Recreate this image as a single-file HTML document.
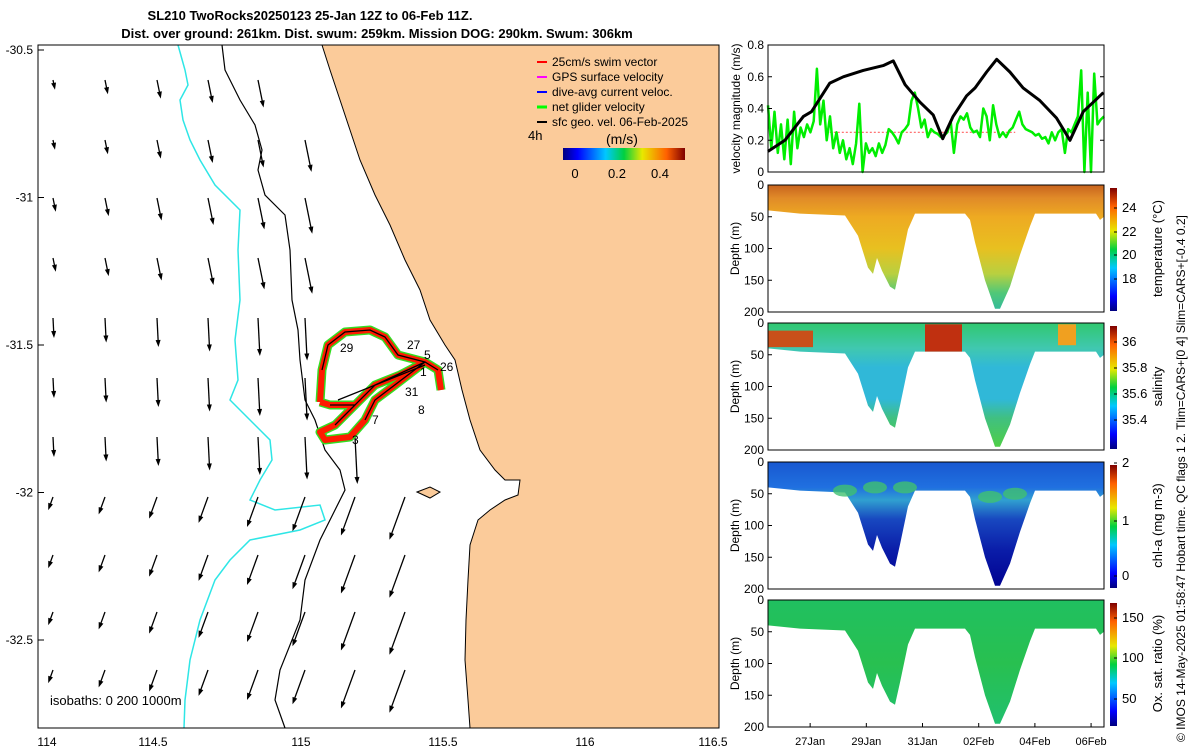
<!DOCTYPE html>
<html><head><meta charset="utf-8">
<style>
html,body{margin:0;padding:0;background:#fff;}
svg{display:block;font-family:"Liberation Sans","DejaVu Sans",sans-serif;}
</style></head>
<body>
<svg id="fig" width="1200" height="750" viewBox="0 0 1200 750" xmlns="http://www.w3.org/2000/svg">
<defs>
  <linearGradient id="jet" x1="0" y1="1" x2="0" y2="0">
    <stop offset="0" stop-color="#00007f"/><stop offset="0.12" stop-color="#0000ff"/>
    <stop offset="0.35" stop-color="#00c8ff"/><stop offset="0.5" stop-color="#00d040"/>
    <stop offset="0.65" stop-color="#e8e800"/><stop offset="0.85" stop-color="#ff6000"/>
    <stop offset="1" stop-color="#7f0000"/>
  </linearGradient>
  <linearGradient id="jeth" x1="0" y1="0" x2="1" y2="0">
    <stop offset="0" stop-color="#00007f"/><stop offset="0.12" stop-color="#0000ff"/>
    <stop offset="0.35" stop-color="#00c8ff"/><stop offset="0.5" stop-color="#00d040"/>
    <stop offset="0.65" stop-color="#e8e800"/><stop offset="0.85" stop-color="#ff6000"/>
    <stop offset="1" stop-color="#7f0000"/>
  </linearGradient>
</defs>

<text x="310" y="20" font-size="13" font-weight="bold" text-anchor="middle">SL210 TwoRocks20250123 25-Jan 12Z to 06-Feb 11Z.</text>
<text x="377" y="38" font-size="13" font-weight="bold" text-anchor="middle">Dist. over ground: 261km. Dist. swum: 259km. Mission DOG: 290km. Swum: 306km</text>

<g id="map">
  <rect x="38" y="45" width="681" height="683" fill="#fff"/>
  <polygon fill="#fbcb9a" stroke="#000" stroke-width="1"
   points="322,45 330,70 340,100 350,130 360,160 375,195 390,225 405,260 420,290 430,320 445,345 455,360 462,390 470,420 480,450 495,470 505,480 520,480 518,495 505,500 490,510 478,520 470,545 468,580 466,620 465,660 468,700 470,728 719,728 719,45"/>
  <polygon points="417,492 430,487 440,492 430,498" fill="#fbcb9a" stroke="#000" stroke-width="1"/>
  <polyline fill="none" stroke="#2ee6e6" stroke-width="1.5"
   points="178,45 185,70 188,85 180,100 183,120 190,140 200,160 215,185 240,210 238,250 240,300 235,340 238,380 230,400 250,420 270,440 272,460 260,480 250,500 275,510 320,505 325,520 300,530 250,540 230,560 215,580 200,620 190,660 185,700 184,728"/>
  <polyline fill="none" stroke="#000" stroke-width="1.2"
   points="222,45 225,70 240,100 255,125 262,150 258,170 265,195 285,215 290,250 292,300 298,330 300,360 305,400 315,420 325,450 340,470 345,490 335,510 320,540 305,580 300,620 280,670 275,700 285,728"/>
  <g id="arrows"></g>
  <g id="track">
    <path fill="none" stroke="#33dd22" stroke-width="9" stroke-linejoin="round" d="M320,402 L322,370 L328,345 L345,332 L370,330 L385,337 L398,355 L425,362 L438,370 L441,390 M425,362 L400,375 L375,385 L365,395 L355,405 L330,405 L320,402 M355,405 L345,415 L335,425 L320,432 L325,440 L350,437 L365,420 L375,400 L395,385 L425,362"/>
    <path fill="none" stroke="#ff1a00" stroke-width="6" stroke-linejoin="round" d="M320,402 L322,370 L328,345 L345,332 L370,330 L385,337 L398,355 L425,362 L438,370 L441,390 M425,362 L400,375 L375,385 L365,395 L355,405 L330,405 L320,402 M355,405 L345,415 L335,425 L320,432 L325,440 L350,437 L365,420 L375,400 L395,385 L425,362"/>
    <path fill="none" stroke="#000" stroke-width="1.3" d="M322,370 L328,345 L345,332 L370,330 L385,337 L398,355 L425,362 L438,370 M425,362 L375,385 L355,405 L330,405 M355,405 L335,425 M365,420 L375,400 L425,362 M338,400 L425,365"/>
  </g>
  <g font-size="12">
    <text x="340" y="352">29</text>
    <text x="407" y="349">27</text>
    <text x="424" y="359">5</text>
    <text x="440" y="371">26</text>
    <text x="420" y="376">1</text>
    <text x="405" y="396">31</text>
    <text x="418" y="414">8</text>
    <text x="372" y="424">7</text>
    <text x="352" y="444">3</text>
  </g>
  <text x="50" y="705" font-size="13">isobaths: 0   200  1000m</text>
  <g font-size="12">
    <line x1="537" y1="62" x2="547" y2="62" stroke="#f00" stroke-width="2"/><text x="552" y="66">25cm/s swim vector</text>
    <line x1="537" y1="77" x2="547" y2="77" stroke="#f0f" stroke-width="2"/><text x="552" y="81">GPS surface velocity</text>
    <line x1="537" y1="92" x2="547" y2="92" stroke="#00f" stroke-width="2"/><text x="552" y="96">dive-avg current veloc.</text>
    <line x1="537" y1="107" x2="547" y2="107" stroke="#0f0" stroke-width="3"/><text x="552" y="111">net glider velocity</text>
    <line x1="537" y1="122" x2="547" y2="122" stroke="#000" stroke-width="2"/><text x="552" y="126">sfc geo. vel. 06-Feb-2025</text>
    <text x="528" y="140" font-size="13">4h</text>
    <text x="606" y="144" font-size="14">(m/s)</text>
    <rect x="563" y="148" width="122" height="12" fill="url(#jeth)"/>
    <text x="575" y="178" font-size="13" text-anchor="middle">0</text>
    <text x="617" y="178" font-size="13" text-anchor="middle">0.2</text>
    <text x="660" y="178" font-size="13" text-anchor="middle">0.4</text>
  </g>
  <rect x="38" y="45" width="681" height="683" fill="none" stroke="#000" stroke-width="1"/>
  <g id="mapaxes" font-size="12"></g>
</g>

<g id="vel"></g>
<g id="profiles"></g>

<text transform="translate(1185,742) rotate(-90)" font-size="12">© IMOS 14-May-2025 01:58:47 Hobart time. QC flags 1  2. Tlim=CARS+[0 4] Slim=CARS+[-0.4 0.2]</text>
</svg>
<script>
const blackDays = [0,0.6,1.26,1.55,2.2,2.68,3.39,4.1,4.46,4.88,5.41,5.88,6.22,6.59,7.07,7.37,7.78,8.14,8.61,9.08,9.68,10.27,10.75,11.22,11.58,11.94];
const blackVals = [0.13,0.2,0.35,0.38,0.56,0.6,0.64,0.67,0.70,0.55,0.44,0.36,0.21,0.35,0.48,0.53,0.63,0.71,0.63,0.53,0.45,0.34,0.2,0.38,0.44,0.5];
const greenVals = [0.42,0.15,0.38,0.12,0.30,0.08,0.33,0.05,0.38,0.15,0.28,0.22,0.30,0.25,0.32,0.65,0.3,
 0.45,0.2,0.35,0.15,0.25,0.12,0.2,0.08,0.15,0.05,0.18,0.43,0.0,
 0.18,0.12,0.15,0.1,0.18,0.12,0.17,0.27,0.25,0.22,0.18,0.25,0.27,0.3,0.45,0.5,0.4,0.28,
 0.33,0.22,0.27,0.25,0.24,0.22,0.23,0.25,0.32,0.12,0.30,0.35,0.33,0.37,0.28,0.25,
 0.26,0.22,0.4,0.35,0.2,0.42,0.3,0.22,0.25,0.22,0.26,0.28,0.33,0.38,0.3,0.27,0.26,0.25,0.23,0.24,0.21,
 0.22,0.18,0.25,0.2,0.25,0.27,0.12,0.27,0.25,0.3,0.35,0.64,0.0,0.5,0.0,0.62,0.3,0.33,0.35];
const swimRef = 0.25;
const velTicks = [0,0.2,0.4,0.6,0.8];
const dateLabels = ["27Jan","29Jan","31Jan","02Feb","04Feb","06Feb"];
const dateDays = [1.5,3.5,5.5,7.5,9.5,11.5];
const depthTicks = [0,50,100,150,200];
const latTicks = [-30.5,-31,-31.5,-32,-32.5];
const lonLabels = ["114","114.5","115","115.5","116","116.5"];
const lonVals = [114,114.5,115,115.5,116,116.5];

const NS="http://www.w3.org/2000/svg";
function el(tag,attrs,parent,txt){const e=document.createElementNS(NS,tag);for(const k in attrs)e.setAttribute(k,attrs[k]);if(txt!==undefined)e.textContent=txt;parent.appendChild(e);return e;}

const PX0=768,PX1=1104,TDAYS=11.96;
const xT=d=>PX0+d/TDAYS*(PX1-PX0);
const VY0=172,VY1=45;
const yV=v=>VY0-(v/0.8)*(VY0-VY1);

const vel=document.getElementById('vel');
const sr=el('line',{x1:xT(2.2),x2:xT(8.8),y1:yV(swimRef),y2:yV(swimRef),stroke:'#ff6060','stroke-width':1.2,'stroke-dasharray':'2,2'},vel);


let gp=greenVals.map((v,i)=>xT(i/(greenVals.length-1)*TDAYS).toFixed(1)+','+yV(v).toFixed(1)).join(' ');
const gl=el('polyline',{points:gp,fill:'none',stroke:'#00ee00','stroke-width':2.5,'stroke-linejoin':'round'},vel);


let bp=blackDays.map((d,i)=>xT(d).toFixed(1)+','+yV(blackVals[i]).toFixed(1)).join(' ');
const bl=el('polyline',{points:bp,fill:'none',stroke:'#000','stroke-width':3,'stroke-linejoin':'round'},vel);


const vf=el('rect',{x:PX0,y:VY1,width:PX1-PX0,height:VY0-VY1,fill:'none',stroke:'#000'},vel);


velTicks.forEach(v=>{
  el('line',{x1:PX0,x2:PX0+4,y1:yV(v),y2:yV(v),stroke:'#000'},vel);
  el('line',{x1:PX1,x2:PX1-4,y1:yV(v),y2:yV(v),stroke:'#000'},vel);
  const t=el('text',{x:PX0-4,y:yV(v)+4,'font-size':12,'text-anchor':'end'},vel,String(v));
  
  
});
const vt=el('text',{transform:`translate(740,${(VY0+VY1)/2}) rotate(-90)`,'font-size':12,'text-anchor':'middle'},vel,'velocity magnitude (m/s)');



const panels=[
 {name:'temperature',top:185,stops:[[0,'#c8641e'],[0.1,'#e08a28'],[0.25,'#eeaa22'],[0.5,'#e8c020'],[0.7,'#b8d040'],[0.85,'#50c878'],[1,'#30b8a0']],cb:['24','22','20','18'],cbv:[212,236,259,283],label:'temperature (°C)'},
 {name:'salinity',top:323,stops:[[0,'#30c870'],[0.2,'#40c8b0'],[0.35,'#30b8d8'],[0.6,'#30b8d8'],[0.75,'#40c080'],[1,'#50d040']],cb:['36','35.8','35.6','35.4'],cbv:[346,372,398,424],label:'salinity'},
 {name:'chlorophyll',top:462,stops:[[0,'#1858d0'],[0.2,'#2070e0'],[0.3,'#30a0d0'],[0.45,'#1848c0'],[0.7,'#0a1ca8'],[1,'#000090']],cb:['2','1','0'],cbv:[467,525,580],label:'chl-a (mg m-3)'},
 {name:'oxygen',top:600,stops:[[0,'#20c060'],[0.5,'#28c050'],[1,'#20c070']],cb:['150','100','50'],cbv:[622,662,703],label:'Ox. sat. ratio (%)'}
];
const shapeX=[768,1104,1104,1100,1096,1035,1030,1020,1010,1000,995,985,975,970,965,915,908,900,895,890,882,877,873,868,858,845,800,768];
const shapeD=[0,0,50,55,45,45,65,110,160,195,195,150,90,55,45,45,70,130,165,160,135,115,140,130,80,48,45,40];
const prof=document.getElementById('profiles');
panels.forEach((p,pi)=>{
  const H=127, yD=d=>p.top+d/200*H;
  const g=el('g',{},prof);
  
  
  const defs=document.querySelector('defs');
  const lg=el('linearGradient',{id:'g'+pi,x1:0,y1:p.top,x2:0,y2:p.top+H,gradientUnits:'userSpaceOnUse'},defs);
  p.stops.forEach(s=>el('stop',{offset:s[0],'stop-color':s[1]},lg));
  const pts=shapeX.map((x,i)=>x+','+yD(shapeD[i]).toFixed(1)).join(' ');
  const poly=el('polygon',{points:pts,fill:'url(#g'+pi+')'},g);
  
  
  if(p.name==='salinity'){
    el('rect',{x:768,y:yD(12),width:45,height:yD(38)-yD(12),fill:'#c8501a'},g);
    el('rect',{x:925,y:yD(2),width:37,height:yD(45)-yD(2),fill:'#c03010'},g);
    el('rect',{x:1058,y:yD(2),width:18,height:yD(35)-yD(2),fill:'#f0a020'},g);
  }
  if(p.name==='chlorophyll'){
    [[845,45],[875,40],[905,40],[990,55],[1015,50]].forEach(c=>el('ellipse',{cx:c[0],cy:yD(c[1]),rx:12,ry:6,fill:'#40c070',opacity:0.8},g));
  }
  const fr=el('rect',{x:PX0,y:p.top,width:PX1-PX0,height:H,fill:'none',stroke:'#000'},g);
  
  
  depthTicks.forEach(d=>{
    el('line',{x1:PX0,x2:PX0+4,y1:yD(d),y2:yD(d),stroke:'#000'},g);
    const t=el('text',{x:PX0-4,y:yD(d)+4,'font-size':12,'text-anchor':'end'},g,String(d));
    
    
  });
  const yt=el('text',{transform:`translate(739,${p.top+H/2}) rotate(-90)`,'font-size':12,'text-anchor':'middle'},g,'Depth (m)');
  
  
  const cb=el('rect',{x:1110,y:p.top+3,width:7,height:H-4,fill:'url(#jet)'},g);
  
  
  p.cb.forEach((l,i)=>{
    el('line',{x1:1114,x2:1117,y1:p.cbv[i]-4,y2:p.cbv[i]-4,stroke:'#000'},g);
    const t=el('text',{x:1122,y:p.cbv[i],'font-size':13},g,l);
    
    
  });
  const cl=el('text',{transform:`translate(1162,${p.top+H/2}) rotate(-90)`,'font-size':13,'text-anchor':'middle'},g,p.label);
  
  
  if(pi===3){
    dateDays.forEach((d,i)=>{
      el('line',{x1:xT(d),x2:xT(d),y1:p.top+H,y2:p.top+H-4,stroke:'#000'},g);
      const t=el('text',{x:xT(d),y:745,'font-size':11,'text-anchor':'middle'},g,dateLabels[i]);
      
      
    });
  }
});

const ma=document.getElementById('mapaxes');
const yLat=l=>50+(-30.5-l)/0.5*147.5;
latTicks.forEach(l=>{
  el('line',{x1:38,x2:44,y1:yLat(l),y2:yLat(l),stroke:'#000'},ma);
  const t=el('text',{x:33,y:yLat(l)+4,'text-anchor':'end','font-size':12},ma,String(l));
  
  
});
const lonPos=[47,153,301,443,585,713];
lonVals.forEach((v,i)=>{
  const t=el('text',{x:lonPos[i],y:746,'text-anchor':'middle','font-size':12},ma,lonLabels[i]);
  
  
});

const ar=document.getElementById('arrows');
const rowsY=[80,140,198,258,318,378,437,497,555,612,670];
const colsX=[53,105,157,208,258,305,355,405];
rowsY.forEach((y,ri)=>{
  colsX.forEach((x,ci)=>{
    if(x>300+ri*10 && ri<6) return;
    if(x>330+ri*12) return;
    const len=7+ci*4.5+(ri<2?0:4)+(ri>=4&&ri<=6?6:0);
    const ang=ri<4?0.2:(ri<7?0.05:-0.35);
    const dx=Math.sin(ang)*len, dy=Math.cos(ang)*len;
    const x2=x+dx,y2=y+dy;
    const a=el('line',{x1:x,y1:y,x2:x2,y2:y2,stroke:'#000','stroke-width':1.3},ar);
    
    
    const ux=dx/len,uy=dy/len;
    const h=el('polygon',{points:`${x2+ux*3},${y2+uy*3} ${x2-uy*2.5-ux*4},${y2+ux*2.5-uy*4} ${x2+uy*2.5-ux*4},${y2-ux*2.5-uy*4}`,fill:'#000'},ar);
    
    
  });
});
</script>
</body></html>
